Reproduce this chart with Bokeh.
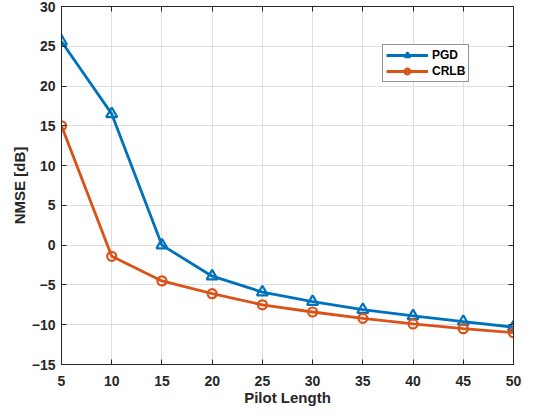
from bokeh.plotting import figure
from bokeh.models import (LinearAxis, FixedTicker, Range1d, Legend, LegendItem,
                          CustomLabelingPolicy)
from bokeh.embed import file_html
from bokeh.resources import INLINE

pilot_length = [5, 10, 15, 20, 25, 30, 35, 40, 45, 50]
pgd = [25.6, 16.5, 0.0, -3.9, -5.9, -7.1, -8.1, -8.9, -9.6, -10.3]
crlb = [15.0, -1.4, -4.5, -6.1, -7.5, -8.4, -9.2, -9.9, -10.5, -11.0]
x_ticks = [5, 10, 15, 20, 25, 30, 35, 40, 45, 50]
y_ticks = [-15, -10, -5, 0, 5, 10, 15, 20, 25, 30]

BLUE = "#0072BD"
ORANGE = "#D95319"
DARK = "#262626"
FONT = "Liberation Sans"

p = figure(width=525, height=408, output_backend="svg", toolbar_location=None,
           x_range=Range1d(5, 50), y_range=Range1d(-15, 30),
           min_border_left=61, min_border_right=12, min_border_top=6,
           min_border_bottom=44)

p.background_fill_color = "white"
p.border_fill_color = "white"
p.outline_line_color = DARK
p.outline_line_width = 1

for ax in (p.xaxis[0], p.yaxis[0]):
    ax.axis_line_color = DARK
    ax.major_tick_line_color = DARK
    ax.major_tick_in = 5
    ax.major_tick_out = 0
    ax.minor_tick_line_color = None
    ax.major_label_text_font = FONT
    ax.major_label_text_font_style = "bold"
    ax.major_label_text_font_size = "14px"
    ax.major_label_text_color = DARK
    ax.axis_label_text_font = FONT
    ax.axis_label_text_font_style = "bold"
    ax.axis_label_text_font_size = "15px"
    ax.axis_label_text_color = DARK

p.xaxis[0].ticker = FixedTicker(ticks=x_ticks)
p.yaxis[0].ticker = FixedTicker(ticks=y_ticks)
p.xaxis[0].axis_label = "Pilot Length"
p.yaxis[0].axis_label = "NMSE [dB]"
p.xaxis[0].major_label_standoff = 11
p.yaxis[0].major_label_standoff = 6
p.xaxis[0].axis_label_standoff = 0
p.yaxis[0].axis_label_standoff = 1

for side, tick in (("above", x_ticks), ("right", y_ticks)):
    ax = LinearAxis(ticker=FixedTicker(ticks=tick))
    ax.axis_line_color = DARK
    ax.major_tick_line_color = DARK
    ax.major_tick_in = 5
    ax.major_tick_out = 0
    ax.minor_tick_line_color = None
    ax.major_label_text_font_size = "0px"
    ax.major_label_standoff = 0
    ax.major_label_policy = CustomLabelingPolicy(code="return []")
    p.add_layout(ax, side)

p.xgrid.ticker = FixedTicker(ticks=x_ticks)
p.ygrid.ticker = FixedTicker(ticks=y_ticks)
p.grid.grid_line_color = "#dedede"
p.grid.grid_line_width = 1

l1 = p.line(pilot_length, pgd, line_color=BLUE, line_width=2.8)
m1 = p.scatter(pilot_length, pgd, marker="triangle", size=11, fill_color=None,
               line_color=BLUE, line_width=2.2)
l2 = p.line(pilot_length, crlb, line_color=ORANGE, line_width=2.8)
m2 = p.scatter(pilot_length, crlb, marker="circle", size=9, fill_color=None,
               line_color=ORANGE, line_width=2.2)

legend = Legend(items=[LegendItem(label="PGD", renderers=[l1, m1]),
                       LegendItem(label="CRLB", renderers=[l2, m2])],
                location=(321, 282))
legend.label_text_font = FONT
legend.label_text_font_style = "bold"
legend.label_text_font_size = "12px"
legend.label_text_color = "black"
legend.border_line_color = DARK
legend.border_line_width = 1
legend.background_fill_color = "white"
legend.background_fill_alpha = 1
legend.glyph_width = 42
legend.glyph_height = 14
legend.label_height = 14
legend.label_standoff = 4
legend.spacing = 2
legend.padding = 3
legend.margin = 0
p.add_layout(legend, "center")

open("out.html", "w").write(file_html(p, INLINE))
